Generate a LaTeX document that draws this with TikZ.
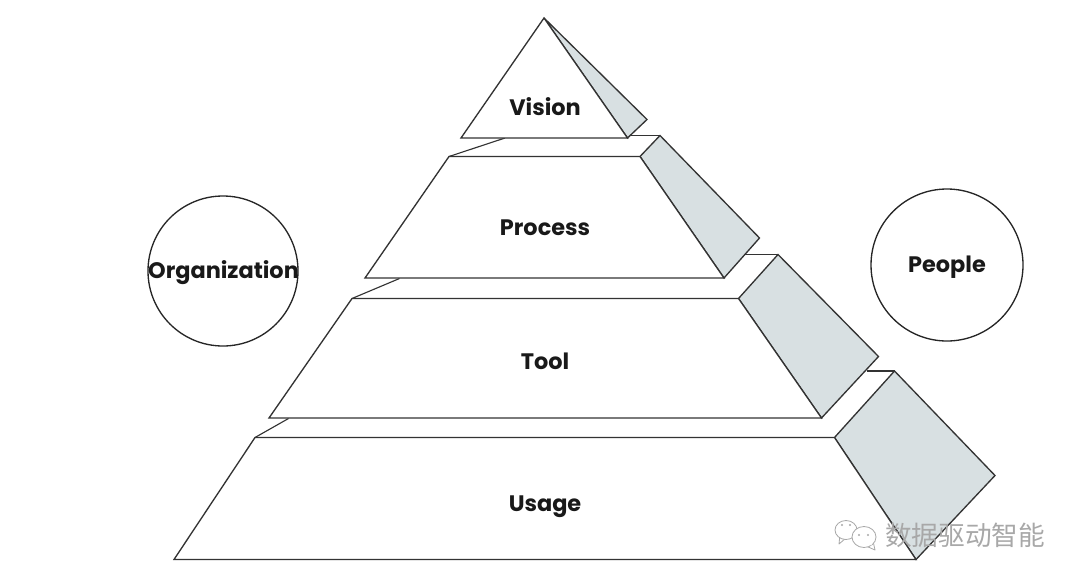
\documentclass[tikz,border=0pt]{standalone}
\usepackage{fontspec}
\setmainfont{Poppins}
\newfontfamily\cjk{Noto Sans CJK SC}
\definecolor{sidegrey}{HTML}{D8E0E2}
\definecolor{inkline}{HTML}{333333}
\definecolor{wmgrey}{HTML}{A8A8A8}
\tikzset{
  x=0.75pt,y=-0.75pt,
  front/.style={draw=inkline,line width=1pt,line join=miter,fill=white},
  sideface/.style={draw=inkline,line width=1pt,fill=sidegrey},
  ledge/.style={draw=inkline,line width=0.85pt},
  ring/.style={draw=black!85,line width=1pt,circle,inner sep=0pt,minimum size=#1},
  label/.style={font=\fontsize{16.8}{20}\selectfont\bfseries,text=black!90,inner sep=0pt,anchor=base},
  wmtext/.style={font=\cjk\fontsize{20}{22}\selectfont,text=wmgrey,inner sep=0pt,anchor=west},
  wmicon/.style={draw=wmgrey,line width=0.6pt,fill=white,line join=round}
}
\begin{document}
\begin{tikzpicture}
\useasboundingbox (0,0) rectangle (1080,582);
\coordinate (vA) at (544,18);
\coordinate (vL) at (461,138);
\coordinate (vR) at (627.5,138);
\coordinate (vS) at (647,119.5);
\coordinate (pTL) at (449,156.5);
\coordinate (pTR) at (640,156.5);
\coordinate (pBR) at (724,278);
\coordinate (pBL) at (365,278);
\coordinate (pB) at (660,135.5);
\coordinate (pS) at (759.5,238);
\coordinate (pC) at (505,138);
\coordinate (pD) at (630,135.5);
\coordinate (tTL) at (352,298.5);
\coordinate (tTR) at (738.5,298.5);
\coordinate (tBR) at (821.5,418);
\coordinate (tBL) at (269,418);
\coordinate (tB) at (778,254.5);
\coordinate (tS) at (878.5,356.5);
\coordinate (tC) at (399.5,278.5);
\coordinate (tD) at (745,254.5);
\coordinate (uTL) at (255,437.5);
\coordinate (uTR) at (834.5,437.5);
\coordinate (uBR) at (916,559.5);
\coordinate (uBL) at (174,559.5);
\coordinate (uB) at (894.5,371);
\coordinate (uS) at (995,475.5);
\coordinate (uC) at (288.5,418.5);
\coordinate (uD) at (866.5,371);

\draw[ledge] (uTL) -- (uC);
\draw[ledge] (uD) -- (uB);
\draw[ledge] (tTL) -- (tC);
\draw[ledge] (tD) -- (tB);
\draw[ledge] (pTL) -- (pC);
\draw[ledge] (pD) -- (pB);

\draw[sideface] (uTR) -- (uB) -- (uS) -- (uBR) -- cycle;
\draw[front] (uTL) -- (uTR) -- (uBR) -- (uBL) -- cycle;
\draw[sideface] (tTR) -- (tB) -- (tS) -- (tBR) -- cycle;
\draw[front] (tTL) -- (tTR) -- (tBR) -- (tBL) -- cycle;
\draw[sideface] (pTR) -- (pB) -- (pS) -- (pBR) -- cycle;
\draw[front] (pTL) -- (pTR) -- (pBR) -- (pBL) -- cycle;
\draw[sideface] (vA) -- (vS) -- (vR) -- cycle;
\draw[front] (vA) -- (vR) -- (vL) -- cycle;

\node[label] (vision) at (545,115) {Vision};
\node[label] (process) at (545,235.5) {Process};
\node[label] (tool) at (545,369) {Tool};
\node[label] (usage) at (545,511) {Usage};
\node[ring=112.5pt] (org) at (223,271) {};
\node[label] (orgt) at (223.5,278.5) {Organization};
\node[ring=114pt] (people) at (947,265) {};
\node[label] (peoplet) at (947,272) {People};

% watermark
\node[wmtext] (wm) at (885,535.5) {数据驱动智能};
\draw[wmicon] (839,544) -- (840,534) -- (846,538) -- cycle;
\draw[wmicon] (846,530) ellipse (11 and 9.5);
\draw[wmicon] (875,550) -- (873,541) -- (866,546) -- cycle;
\draw[wmicon] (864,537) ellipse (12 and 10.5);
\fill[white] (870,543) -- (873,541) -- (871,546) -- cycle;
\fill[wmgrey] (859,535) circle (1.1) (868,535) circle (1.1) (842,525) circle (1.1) (850,525) circle (1.1);
\end{tikzpicture}
\end{document}
